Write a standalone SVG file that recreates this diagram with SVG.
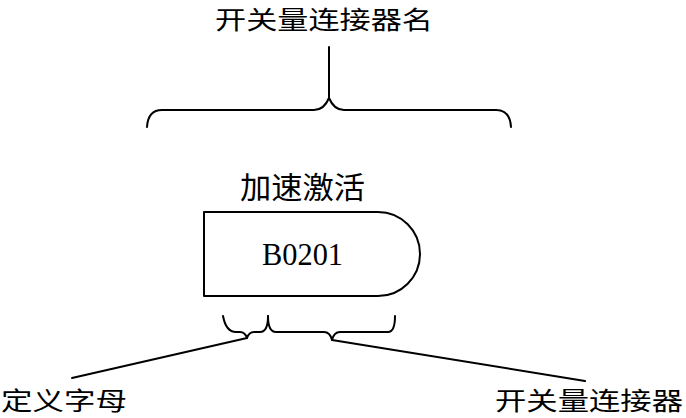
<svg xmlns="http://www.w3.org/2000/svg" width="686" height="418" viewBox="0 0 686 418">
<style>
.cjk{font-family:"Noto Sans CJK SC","Noto Sans CJK JP",sans-serif;font-size:30px;fill:#000}
.edge{font-size:25px}
.lat{font-family:"Liberation Serif",serif;font-size:32px;fill:#000}
.ln{fill:none;stroke:#000;stroke-width:2;stroke-linejoin:round;stroke-linecap:round}
</style>
<rect width="686" height="418" fill="#fff"/>
<g id="title"><text class="cjk edge" x="215" y="29" textLength="218" lengthAdjust="spacingAndGlyphs">开关量连接器名</text></g>
<g id="node-b0201">
<text class="cjk" x="240" y="198" textLength="125" lengthAdjust="spacingAndGlyphs">加速激活</text>
<path class="ln" d="M204,212 H378 A42,42 0 0 1 378,296 H204 Z"/>
<text class="lat" x="262" y="265" textLength="81" lengthAdjust="spacingAndGlyphs">B0201</text>
</g>
<g id="label-letter"><text class="cjk edge" x="1" y="410" textLength="126" lengthAdjust="spacingAndGlyphs">定义字母</text></g>
<g id="label-connector"><text class="cjk edge" x="495" y="410" textLength="188" lengthAdjust="spacingAndGlyphs">开关量连接器</text></g>
<g id="connectors">
<path class="ln" d="M329,47 V98"/>
<path class="ln" d="M147,127 Q148,110 162,110 H314 Q324,110 329,98 Q334,110 344,110 H496 Q510,110 511,127"/>
<path class="ln" d="M223,316 Q226,332 236,332 H240 Q245,332 247,338 Q249,332 254,332 H260 Q268,332 268,316"/>
<path class="ln" d="M268,316 Q268,332 276,332 H324 Q330,332 332,340 Q334,332 340,332 H388 Q395,332 395,316"/>
<path class="ln" d="M247,338 L72,378"/>
<path class="ln" d="M332,340 L585,381"/>
</g>
</svg>
